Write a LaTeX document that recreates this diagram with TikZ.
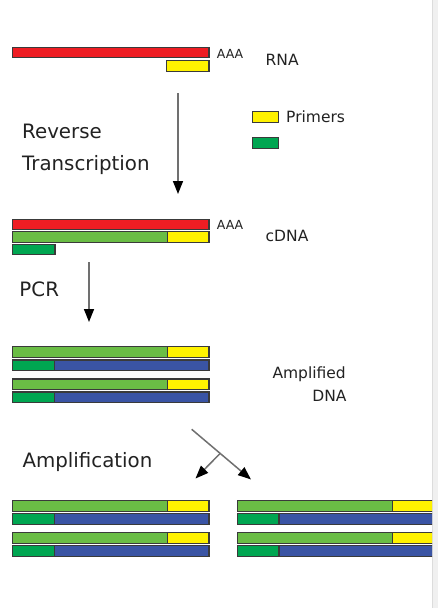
\documentclass[tikz,border=0pt]{standalone}
\usepackage{fontspec}
\setmainfont{DejaVu Sans}
\usetikzlibrary{arrows.meta,calc}
\definecolor{rnared}{HTML}{EE1D23}
\definecolor{primeryel}{HTML}{FFF200}
\definecolor{ltgreen}{HTML}{6ABD45}
\definecolor{dkgreen}{HTML}{00A651}
\definecolor{dnablue}{HTML}{3A54A4}
\definecolor{edge}{HTML}{3A3A3A}
\definecolor{txt}{HTML}{222222}
\definecolor{shaft}{HTML}{707070}
\definecolor{strip}{HTML}{F0F0F0}
\definecolor{stripline}{HTML}{DCDCDC}
\begin{document}
\begin{tikzpicture}[x=1pt,y=-1pt,
  barbox/.style={draw=edge,line width=1.3pt,inner sep=0pt,outer sep=0pt,anchor=north west,minimum height=10.5pt},
  bigtxt/.style={anchor=base west,inner sep=0pt,text=txt,font=\fontsize{19.8}{22}\selectfont},
  midtxt/.style={inner sep=0pt,text=txt,font=\fontsize{15.5}{18}\selectfont},
  smalltxt/.style={anchor=west,inner sep=0pt,text=txt,font=\fontsize{12.5}{14}\selectfont},
  flow/.style={draw=shaft,line width=1.5pt,-{Triangle[length=13pt,width=10pt,color=black]}}]
\useasboundingbox (0,0) rectangle (438,608);
\fill[white] (0,0) rectangle (432,608);
\fill[strip] (432,0) rectangle (438,608);
\draw[stripline,line width=1pt] (432.5,0) -- (432.5,608);

% RNA
\node[barbox,fill=rnared,minimum width=196.3pt] (rna) at (12.7,47.3) {};
\node[barbox,fill=primeryel,minimum width=42.3pt] (rnaprimer) at (166.7,60.7) {};
\node[smalltxt] (aaa1) at (216.7,53.5) {AAA};
\node[midtxt,anchor=west] (rnalbl) at (265.5,60) {RNA};

% legend
\node[barbox,fill=primeryel,minimum width=26pt,minimum height=11pt] (legy) at (252.5,111.7) {};
\node[barbox,fill=dkgreen,minimum width=26pt,minimum height=11pt] (legg) at (252.5,137.5) {};
\node[midtxt,anchor=west] (primers) at (286,117) {Primers};

% reverse transcription
\node[bigtxt] (rev) at (22,138.3) {Reverse};
\node[bigtxt] (trans) at (22,170) {Transcription};
\coordinate (a1s) at (178,93);
\coordinate (a1e) at (178,194);
\draw[flow] (a1s) -- (a1e);

% cDNA
\node[barbox,fill=rnared,minimum width=196.3pt] (cred) at (12.7,219.3) {};
\node[barbox,fill=ltgreen,minimum width=155pt] (cgreen) at (12.7,231.7) {};
\node[barbox,fill=primeryel,minimum width=41.3pt] (cyel) at (167.7,231.7) {};
\node[barbox,fill=dkgreen,minimum width=42.3pt] (cdk) at (12.7,244.3) {};
\node[smalltxt] (aaa2) at (216.7,224.7) {AAA};
\node[midtxt,anchor=west] (cdnalbl) at (265.5,236) {cDNA};

% PCR
\node[bigtxt] (pcr) at (19.3,296.7) {PCR};
\coordinate (a2s) at (89,262);
\coordinate (a2e) at (89,322);
\draw[flow] (a2s) -- (a2e);

% Amplified DNA
\foreach \y/\n in {346.7/a, 379/b}{
  \node[barbox,fill=ltgreen,minimum width=155pt] (amp\n g) at (12.7,\y) {};
  \node[barbox,fill=primeryel,minimum width=41.3pt] (amp\n y) at (167.7,\y) {};
}
\foreach \y/\n in {360/a, 392/b}{
  \node[barbox,fill=dkgreen,minimum width=41.6pt] (amp\n d) at (12.7,\y) {};
  \node[barbox,fill=dnablue,minimum width=154.7pt] (amp\n b) at (54.3,\y) {};
}
\node[midtxt,anchor=east] (amplbl) at (346,374) {Amplified};
\node[midtxt,anchor=east] (dnalbl) at (346.7,396) {DNA};

% Amplification
\node[bigtxt] (ampl) at (22.3,467.3) {Amplification};
\coordinate (a3s) at (191.7,429.3);
\coordinate (a3e) at (251,479.5);
\coordinate (a3m) at ($(a3s)!0.48!(a3e)$);
\draw[flow] (a3s) -- (a3e);
\coordinate (a4e) at (195.5,478.5);
\draw[flow] (a3m) -- (a4e);

% bottom left group
\foreach \y/\n in {500.7/a, 532.7/b}{
  \node[barbox,fill=ltgreen,minimum width=155pt] (bl\n g) at (12.7,\y) {};
  \node[barbox,fill=primeryel,minimum width=41.3pt] (bl\n y) at (167.7,\y) {};
}
\foreach \y/\n in {513.7/a, 545.7/b}{
  \node[barbox,fill=dkgreen,minimum width=41.6pt] (bl\n d) at (12.7,\y) {};
  \node[barbox,fill=dnablue,minimum width=154.7pt] (bl\n b) at (54.3,\y) {};
}
% bottom right group (cut at the edge)
\begin{scope}
\clip (0,0) rectangle (432,608);
\foreach \y/\n in {500.7/a, 532.7/b}{
  \node[barbox,fill=ltgreen,minimum width=154.6pt] (br\n g) at (237.7,\y) {};
  \node[barbox,fill=primeryel,minimum width=41.7pt] (br\n y) at (392.3,\y) {};
}
\foreach \y/\n in {513.7/a, 545.7/b}{
  \node[barbox,fill=dkgreen,minimum width=41.3pt] (br\n d) at (237.7,\y) {};
  \node[barbox,fill=dnablue,minimum width=155pt] (br\n b) at (279,\y) {};
}
\end{scope}
\end{tikzpicture}
\end{document}
